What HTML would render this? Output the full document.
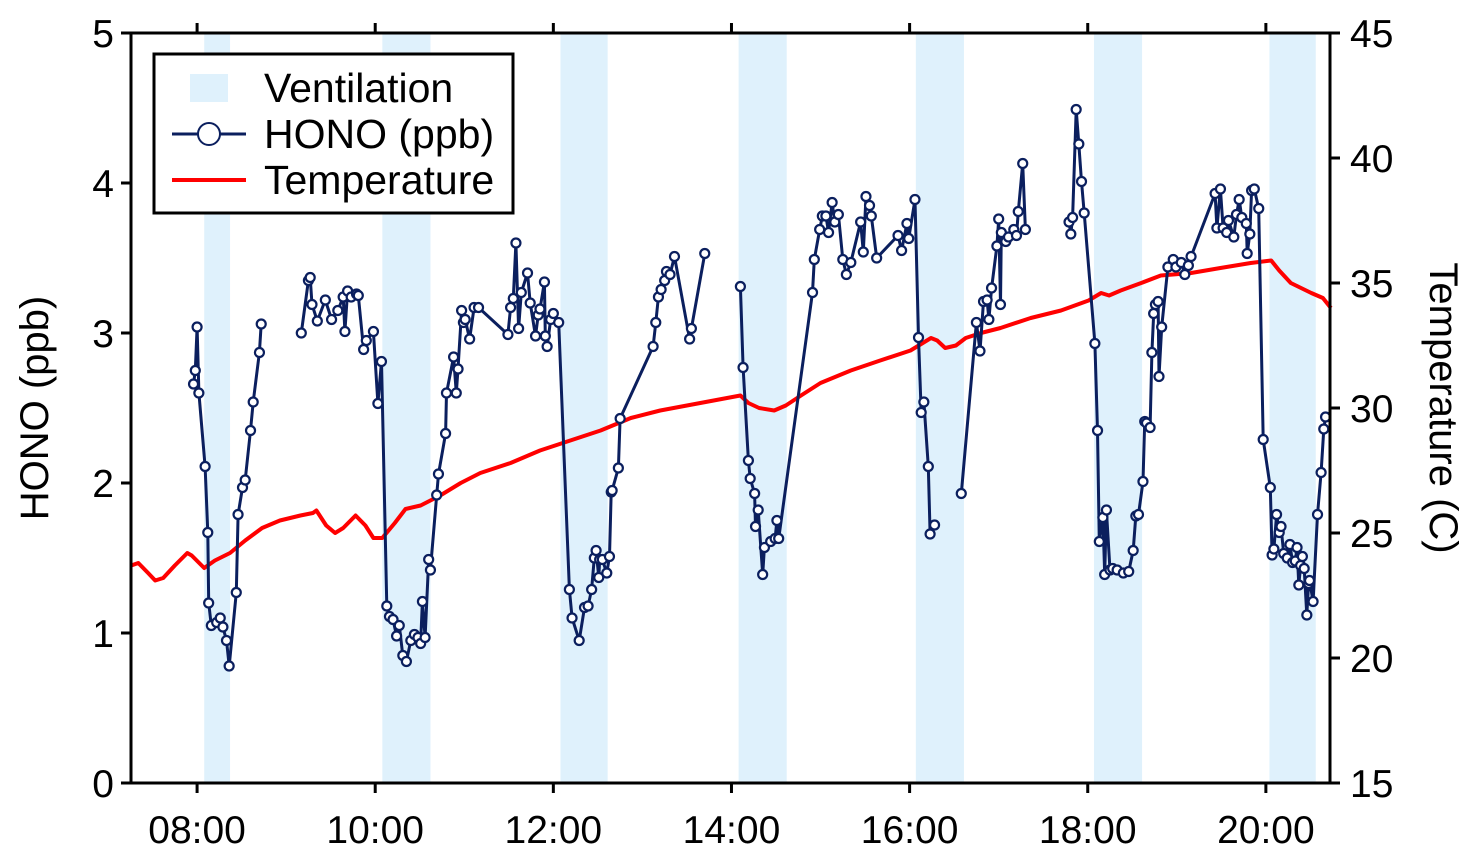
<!DOCTYPE html>
<html><head><meta charset="utf-8">
<style>
html,body{margin:0;padding:0;background:#fff;}
svg{display:block;font-family:"Liberation Sans",Arial,sans-serif;}
</style></head>
<body>
<svg id="chart" width="1480" height="861" viewBox="0 0 1480 861" xmlns="http://www.w3.org/2000/svg">
<g id="bands"></g>
<g id="temp"></g>
<g id="hono"></g>
<g id="axes"></g>
<g id="legend"></g>
</svg>
<script>
const ventStart=[8.08,10.08,12.08,14.08,16.07,18.07,20.04];
const ventEnd=[8.37,10.62,12.61,14.62,16.61,18.61,20.56];
const honoTime=[7.96,7.98,8.00,8.02,8.09,8.12,8.13,8.16,8.22,8.26,8.29,8.33,8.36,8.44,8.46,8.51,8.54,8.60,8.63,8.70,8.72,null,
9.17,9.25,9.27,9.29,9.35,9.44,9.51,9.58,9.64,9.66,9.69,9.73,9.79,9.81,9.87,9.90,9.98,10.03,10.07,10.13,10.16,10.20,10.24,10.27,10.31,10.35,10.40,10.44,10.48,10.51,10.53,10.56,10.60,10.62,10.69,10.71,10.79,10.80,10.88,10.91,10.93,10.97,10.99,11.01,11.06,11.11,11.16,11.49,11.52,11.55,11.58,11.61,11.64,11.71,11.74,11.80,11.83,11.85,11.90,11.91,11.93,11.97,12.00,12.06,12.18,12.21,12.29,12.35,12.39,12.43,12.46,12.48,12.51,12.52,12.55,12.60,12.63,12.65,12.66,12.73,12.75,13.12,13.15,13.18,13.21,13.25,13.27,13.31,13.36,13.53,13.55,13.70,null,
14.10,14.13,14.19,14.21,14.26,14.27,14.30,14.35,14.37,14.44,14.49,14.51,14.53,14.91,14.93,14.99,15.02,15.06,15.09,15.13,15.16,15.20,15.25,15.29,15.34,15.45,15.48,15.51,15.55,15.57,15.63,15.87,15.91,15.97,15.99,16.06,16.10,16.13,16.16,16.21,16.23,16.28,null,
16.58,16.75,16.79,16.83,16.87,16.89,16.92,16.98,17.00,17.02,17.03,17.08,17.11,17.17,17.20,17.22,17.27,17.30,null,
17.79,17.81,17.83,17.87,17.90,17.93,17.96,18.08,18.11,18.13,18.17,18.19,18.21,18.25,18.28,18.33,18.40,18.46,18.51,18.54,18.57,18.62,18.64,18.66,18.70,18.72,18.74,18.76,18.79,18.80,18.83,18.90,18.96,18.99,19.05,19.09,19.13,19.16,19.43,19.45,19.49,19.52,19.56,19.58,19.64,19.67,19.70,19.73,19.78,19.79,19.82,19.84,19.87,19.92,19.97,20.05,20.07,20.09,20.12,20.15,20.17,20.20,20.24,20.27,20.30,20.33,20.35,20.37,20.39,20.41,20.43,20.46,20.48,20.49,20.53,20.58,20.62,20.65,20.67];
const honoValue=[2.66,2.75,3.04,2.60,2.11,1.67,1.20,1.05,1.07,1.10,1.04,0.95,0.78,1.27,1.79,1.97,2.02,2.35,2.54,2.87,3.06,null,
3.00,3.35,3.37,3.19,3.08,3.22,3.09,3.15,3.24,3.01,3.28,3.24,3.26,3.25,2.89,2.95,3.01,2.53,2.81,1.18,1.11,1.09,0.98,1.05,0.85,0.81,0.95,0.99,0.97,0.93,1.21,0.97,1.49,1.42,1.92,2.06,2.33,2.60,2.84,2.60,2.76,3.15,3.07,3.09,2.96,3.17,3.17,2.99,3.17,3.23,3.60,3.03,3.27,3.40,3.20,2.98,3.12,3.16,3.34,2.98,2.91,3.09,3.13,3.07,1.29,1.10,0.95,1.17,1.18,1.29,1.50,1.55,1.37,1.49,1.49,1.40,1.51,1.94,1.95,2.10,2.43,2.91,3.07,3.24,3.29,3.35,3.41,3.39,3.51,2.96,3.03,3.53,null,
3.31,2.77,2.15,2.03,1.93,1.71,1.82,1.39,1.57,1.61,1.63,1.75,1.63,3.27,3.49,3.69,3.78,3.78,3.67,3.87,3.74,3.79,3.49,3.39,3.47,3.74,3.54,3.91,3.85,3.78,3.50,3.65,3.55,3.73,3.63,3.89,2.97,2.47,2.54,2.11,1.66,1.72,null,
1.93,3.07,2.88,3.21,3.22,3.09,3.30,3.58,3.76,3.19,3.67,3.61,3.64,3.69,3.65,3.81,4.13,3.69,null,
3.74,3.66,3.77,4.49,4.26,4.01,3.80,2.93,2.35,1.61,1.77,1.39,1.82,1.42,1.43,1.42,1.40,1.41,1.55,1.78,1.79,2.01,2.41,2.40,2.37,2.87,3.13,3.19,3.21,2.71,3.04,3.44,3.49,3.44,3.47,3.39,3.45,3.51,3.93,3.70,3.96,3.70,3.67,3.75,3.64,3.79,3.89,3.77,3.73,3.53,3.66,3.95,3.96,3.83,2.29,1.97,1.52,1.56,1.79,1.67,1.71,1.53,1.50,1.59,1.47,1.48,1.57,1.32,1.45,1.51,1.43,1.12,1.33,1.35,1.21,1.79,2.07,2.36,2.44];
const tempTime=[7.26,7.34,7.45,7.53,7.62,7.75,7.89,7.94,8.08,8.20,8.37,8.54,8.73,8.93,9.16,9.30,9.34,9.45,9.55,9.64,9.78,9.89,9.98,10.08,10.22,10.34,10.51,10.73,10.96,11.18,11.52,11.85,12.19,12.53,12.87,13.20,13.65,14.10,14.19,14.31,14.48,14.61,14.78,15.00,15.34,15.67,16.01,16.24,16.31,16.40,16.52,16.63,16.80,17.02,17.36,17.70,18.01,18.15,18.24,18.37,18.60,18.82,19.16,19.49,19.83,20.06,20.15,20.28,20.51,20.64,20.73];
const tempValue=[23.7,23.8,23.4,23.1,23.2,23.7,24.2,24.1,23.6,23.9,24.2,24.7,25.2,25.5,25.7,25.8,25.9,25.3,25.0,25.2,25.7,25.3,24.8,24.8,25.4,25.96,26.1,26.5,27.0,27.4,27.8,28.3,28.7,29.1,29.6,29.9,30.2,30.5,30.2,30.0,29.9,30.1,30.5,31.0,31.5,31.9,32.3,32.8,32.7,32.4,32.5,32.8,33.0,33.2,33.6,33.9,34.3,34.6,34.5,34.7,35.0,35.3,35.4,35.6,35.8,35.9,35.5,35.0,34.6,34.4,34.0];
const xTickHours=[8,10,12,14,16,18,20];
const xTickLabels=["08:00","10:00","12:00","14:00","16:00","18:00","20:00"];
const yLeftTicks=[0,1,2,3,4,5];
const yRightTicks=[15,20,25,30,35,40,45];

const L=131,R=1330,T=33,B=783;
const xMin=7.258,xMax=20.72;
const X=h=>L+(h-xMin)/(xMax-xMin)*(R-L);
const YL=v=>B-(v/5)*(B-T);
const YR=v=>B-((v-15)/30)*(B-T);
const NS="http://www.w3.org/2000/svg";
function mk(tag,attrs,parent){const e=document.createElementNS(NS,tag);for(const k in attrs)e.setAttribute(k,attrs[k]);parent.appendChild(e);return e;}

const gB=document.getElementById('bands');
for(let i=0;i<ventStart.length;i++){
  const r=mk('rect',{x:X(ventStart[i]),y:T,width:X(ventEnd[i])-X(ventStart[i]),height:B-T,fill:'#dff1fc'},gB);
  
  
}
const gT=document.getElementById('temp');
let td='';tempTime.forEach((t,i)=>{td+=(i?'L':'M')+X(t).toFixed(1)+' '+YR(tempValue[i]).toFixed(1);});
const tp=mk('path',{d:td,fill:'none',stroke:'#ff0000','stroke-width':4,'stroke-linejoin':'round'},gT);



const gH=document.getElementById('hono');
let hd='',pen=false;
honoTime.forEach((t,i)=>{const v=honoValue[i];if(t===null||v===null){pen=false;return;}hd+=(pen?'L':'M')+X(t).toFixed(1)+' '+YL(v).toFixed(1);pen=true;});
const hp=mk('path',{d:hd,fill:'none',stroke:'#0b1f5e','stroke-width':3,'stroke-linejoin':'round'},gH);


honoTime.forEach((t,i)=>{const v=honoValue[i];if(t===null||v===null)return;
  const c=mk('circle',{cx:X(t),cy:YL(v),r:4.5,fill:'#fff',stroke:'#0b1f5e','stroke-width':2.2},gH);
  
  
});

const gA=document.getElementById('axes');
const fr=mk('rect',{x:L,y:T,width:R-L,height:B-T,fill:'none',stroke:'#000','stroke-width':3},gA);


xTickHours.forEach((h,i)=>{
  const x=X(h);
  mk('line',{x1:x,y1:B,x2:x,y2:B+10,stroke:'#000','stroke-width':3},gA);
  mk('line',{x1:x,y1:T,x2:x,y2:T-10,stroke:'#000','stroke-width':3},gA);
  const tx=mk('text',{x:x,y:843,'text-anchor':'middle','font-size':39},gA);
  tx.textContent=xTickLabels[i];
  
  
});
yLeftTicks.forEach(v=>{
  const y=YL(v);
  mk('line',{x1:L-10,y1:y,x2:L,y2:y,stroke:'#000','stroke-width':3},gA);
  const tx=mk('text',{x:114,y:y+14,'text-anchor':'end','font-size':39},gA);
  tx.textContent=v;
  
  
});
yRightTicks.forEach(v=>{
  const y=YR(v);
  mk('line',{x1:R,y1:y,x2:R+10,y2:y,stroke:'#000','stroke-width':3},gA);
  const tx=mk('text',{x:1350,y:y+14,'text-anchor':'start','font-size':39},gA);
  tx.textContent=v;
  
  
});
const yt=mk('text',{x:0,y:0,'text-anchor':'middle','font-size':40,transform:'translate(48,408) rotate(-90)'},gA);
yt.textContent='HONO (ppb)';


const yt2=mk('text',{x:0,y:0,'text-anchor':'middle','font-size':40,transform:'translate(1430,408) rotate(90)'},gA);
yt2.textContent='Temperature (C)';



const gL=document.getElementById('legend');
const lb=mk('rect',{x:154,y:54,width:359,height:159,fill:'#fff',stroke:'#000','stroke-width':3},gL);


mk('rect',{x:190,y:74,width:38,height:28,fill:'#dff1fc'},gL);
mk('line',{x1:172,y1:134,x2:246,y2:134,stroke:'#0b1f5e','stroke-width':3},gL);
mk('circle',{cx:209,cy:134,r:11,fill:'#fff',stroke:'#0b1f5e','stroke-width':2},gL);
mk('line',{x1:172,y1:180,x2:246,y2:180,stroke:'#ff0000','stroke-width':4},gL);
[['Ventilation',102],['HONO (ppb)',148],['Temperature',194]].forEach(([t,y])=>{
  const tx=mk('text',{x:264,y:y,'font-size':41},gL);
  tx.textContent=t;
  
  
});
</script>
</body></html>
